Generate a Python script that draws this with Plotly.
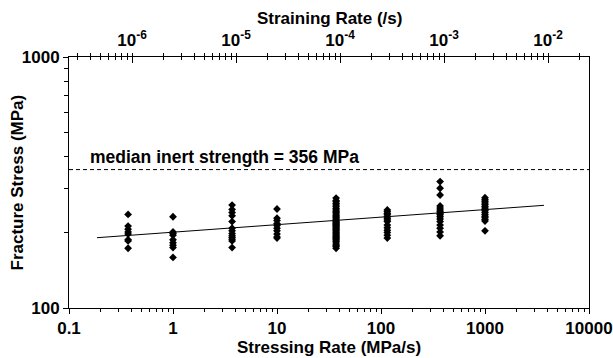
import numpy as np
import plotly.graph_objects as go

# ---------------- data ----------------
modulus_mpa = 4.04e5  # stressing rate / straining rate
rate_groups = [0.37, 1.0, 3.7, 10, 37, 115, 370, 1000]
stress_g1 = [236, 212, 206, 201, 197, 187, 185, 173]
stress_g2 = [231, 201, 198, 195, 187, 182, 178, 174, 159]
stress_g3 = [257, 247, 240, 233, 221, 208, 203, 198, 194, 191, 188, 185, 174]
stress_g4 = [248, 228, 223, 217, 213, 208, 203, 197, 192, 190]
stress_g5 = [274, 268, 265, 261, 257, 253, 249, 246, 243, 240, 237, 234, 231, 229,
             226, 224, 221, 219, 217, 215, 213, 211, 209, 207, 205, 203, 201, 199,
             197, 195, 193, 191, 189, 187, 185, 183, 180, 178, 176, 173]
stress_g6 = [246, 242, 238, 235, 231, 228, 224, 221, 214, 209, 204, 200, 195, 190]
stress_g7 = [319, 300, 282, 255, 250, 246, 242, 238, 235, 231, 226, 221, 214, 208, 201, 194]
stress_g8 = [275, 270, 266, 262, 258, 254, 250, 247, 244, 240, 236, 232, 229, 225, 222, 203]
fit_rates = [0.186, 3690]
fit_stress = [190.6, 256.5]
inert_strength = 356
inert_label = "median inert strength = 356 MPa"

x_tickvals = [0.1, 1, 10, 100, 1000, 10000]
x_ticktext = ["0.1", "1", "10", "100", "1000", "10000"]
y_tickvals = [100, 1000]
y_ticktext = ["100", "1000"]
top_tickvals = [1e-6, 1e-5, 1e-4, 1e-3, 1e-2]
top_ticktext = ["10<sup>-6</sup>", "10<sup>-5</sup>", "10<sup>-4</sup>", "10<sup>-3</sup>", "10<sup>-2</sup>"]

groups = [stress_g1, stress_g2, stress_g3, stress_g4, stress_g5, stress_g6, stress_g7, stress_g8]
xs, ys = [], []
for r, g in zip(rate_groups, groups):
    xs += [r] * len(g)
    ys += g

x_range = [0.1, 10000]
top_range = [x_range[0] / modulus_mpa, x_range[1] / modulus_mpa]

def minor_vals(lo_exp, hi_exp):
    out = []
    for e in range(lo_exp, hi_exp + 1):
        for m in range(2, 10):
            out.append(m * 10.0 ** e)
    return out

FONT = "Liberation Sans, Arial, sans-serif"
tickfont = dict(family=FONT, size=17, color="black", weight="bold")
titlefont = dict(family=FONT, size=17, color="black", weight="bold")

fig = go.Figure()
fig.add_trace(go.Scatter(x=xs, y=ys, mode="markers",
                         marker=dict(symbol="diamond", size=6, color="black"),
                         showlegend=False, hoverinfo="x+y"))
fig.add_trace(go.Scatter(x=fit_rates, y=fit_stress, mode="lines",
                         line=dict(color="black", width=1), showlegend=False))
fig.add_trace(go.Scatter(x=x_range, y=[inert_strength, inert_strength], mode="lines",
                         line=dict(color="black", width=1, dash="4px,3px"), showlegend=False))
# invisible traces to anchor the top (straining rate) axes
for ax in ["x2", "x3"]:
    fig.add_trace(go.Scatter(x=top_range, y=[100, 1000], xaxis=ax, mode="markers",
                             marker=dict(opacity=0), hoverinfo="skip", showlegend=False))

fig.add_annotation(x=np.log10(0.152), y=np.log10(inert_strength), text=inert_label,
                   showarrow=False, xanchor="left", yanchor="bottom", yshift=1,
                   font=dict(family=FONT, size=17.5, color="black", weight="bold"))
# axis titles placed as annotations for precise positioning
fig.add_annotation(xref="paper", yref="paper", x=-0.1, y=0.5, text="Fracture Stress (MPa)",
                   textangle=-90, showarrow=False, xanchor="center", yanchor="middle",
                   font=titlefont)
fig.add_annotation(xref="paper", yref="paper", x=0.5, y=1.155, text="Straining Rate (/s)",
                   showarrow=False, xanchor="center", yanchor="middle", font=titlefont)

common = dict(showline=True, linecolor="black", linewidth=1, showgrid=False,
              zeroline=False, automargin=False)

fig.update_layout(
    width=613, height=358,
    margin=dict(l=69, r=24, t=57, b=50),
    paper_bgcolor="white", plot_bgcolor="white",
    xaxis=dict(type="log", range=[np.log10(x_range[0]), np.log10(x_range[1])],
               tickvals=x_tickvals, ticktext=x_ticktext, ticks="outside", ticklen=5,
               tickcolor="black", tickfont=tickfont,
               minor=dict(tickvals=minor_vals(-1, 3), ticks="outside", ticklen=3,
                          tickcolor="black", showgrid=False),
               title=dict(text="Stressing Rate (MPa/s)", font=titlefont, standoff=0),
               **common),
    xaxis2=dict(type="log", overlaying="x", side="top", anchor="y",
                range=[np.log10(top_range[0]), np.log10(top_range[1])],
                tickvals=top_tickvals, ticktext=top_ticktext, ticks="outside", ticklen=3,
                tickcolor="black", tickfont=tickfont,
                minor=dict(tickvals=minor_vals(-7, -2), ticks="outside", ticklen=3,
                           tickcolor="black", showgrid=False),
                **common),
    xaxis3=dict(type="log", overlaying="x", side="top", anchor="y",
                range=[np.log10(top_range[0]), np.log10(top_range[1])],
                tickvals=top_tickvals, ticks="inside", ticklen=6, tickcolor="black",
                showticklabels=False,
                minor=dict(tickvals=minor_vals(-7, -2), ticks="inside", ticklen=3,
                           tickcolor="black", showgrid=False),
                **common),
    yaxis=dict(type="log", range=[2, 3], tickvals=y_tickvals, ticktext=y_ticktext,
               ticks="outside", ticklen=5, tickcolor="black", tickfont=tickfont,
               minor=dict(tickvals=[200, 300, 400, 500, 600, 700, 800, 900], ticks="outside",
                          ticklen=4, tickcolor="black", showgrid=False),
               mirror=True, **common),
)

fig.write_html("out.html", config={"displayModeBar": False},
               post_script="document.body.style.margin='0';")
